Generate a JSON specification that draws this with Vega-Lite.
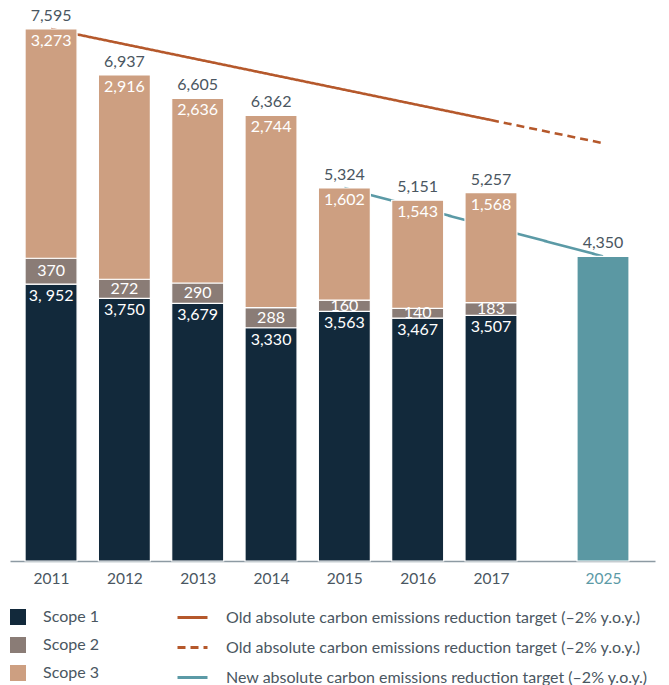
{
  "$schema": "https://vega.github.io/schema/vega-lite/v6.json",
  "width": 645,
  "height": 561,
  "autosize": {"type": "none"},
  "padding": {"left": 10, "top": 0, "right": 14, "bottom": 124},
  "background": "white",
  "config": {
    "view": {"stroke": null},
    "font": "Lato",
    "axis": {"labelFont": "Lato", "titleFont": "Lato"},
    "legend": {"labelFont": "Lato", "titleFont": "Lato"}
  },
  "datasets": {
    "segs": [
      {"year": 2011, "scope": "Scope 1", "value": 3952, "label": "3, 952"},
      {"year": 2011, "scope": "Scope 2", "value": 370, "label": "370"},
      {"year": 2011, "scope": "Scope 3", "value": 3273, "label": "3,273"},
      {"year": 2012, "scope": "Scope 1", "value": 3750, "label": "3,750"},
      {"year": 2012, "scope": "Scope 2", "value": 272, "label": "272"},
      {"year": 2012, "scope": "Scope 3", "value": 2916, "label": "2,916"},
      {"year": 2013, "scope": "Scope 1", "value": 3679, "label": "3,679"},
      {"year": 2013, "scope": "Scope 2", "value": 290, "label": "290"},
      {"year": 2013, "scope": "Scope 3", "value": 2636, "label": "2,636"},
      {"year": 2014, "scope": "Scope 1", "value": 3330, "label": "3,330"},
      {"year": 2014, "scope": "Scope 2", "value": 288, "label": "288"},
      {"year": 2014, "scope": "Scope 3", "value": 2744, "label": "2,744"},
      {"year": 2015, "scope": "Scope 1", "value": 3563, "label": "3,563"},
      {"year": 2015, "scope": "Scope 2", "value": 160, "label": "160"},
      {"year": 2015, "scope": "Scope 3", "value": 1602, "label": "1,602"},
      {"year": 2016, "scope": "Scope 1", "value": 3467, "label": "3,467"},
      {"year": 2016, "scope": "Scope 2", "value": 140, "label": "140"},
      {"year": 2016, "scope": "Scope 3", "value": 1543, "label": "1,543"},
      {"year": 2017, "scope": "Scope 1", "value": 3507, "label": "3,507"},
      {"year": 2017, "scope": "Scope 2", "value": 183, "label": "183"},
      {"year": 2017, "scope": "Scope 3", "value": 1568, "label": "1,568"},
      {"year": 2025, "scope": "Target", "value": 4350, "label": ""}
    ],
    "totals": [
      {"year": 2011, "total": 7595},
      {"year": 2012, "total": 6937},
      {"year": 2013, "total": 6605},
      {"year": 2014, "total": 6362},
      {"year": 2015, "total": 5324},
      {"year": 2016, "total": 5151},
      {"year": 2017, "total": 5257},
      {"year": 2025, "total": 4350}
    ],
    "targets": [
      {"series": "old", "year": 2011, "value": 7595},
      {"series": "old", "year": 2017, "value": 6295},
      {"series": "old_proj", "year": 2017, "value": 6295},
      {"series": "old_proj", "year": 2025, "value": 5965},
      {"series": "new", "year": 2015, "value": 5324},
      {"series": "new", "year": 2025, "value": 4350}
    ]
  },
  "encoding": {
    "x": {
      "field": "year",
      "type": "quantitative",
      "scale": {"domain": [2010.44, 2017, 2025, 2025.74], "range": [0, 481, 593, 645], "zero": false, "nice": false, "padding": 0},
      "axis": {
        "title": null,
        "values": [2011, 2012, 2013, 2014, 2015, 2016, 2017, 2025],
        "format": "d",
        "ticks": false,
        "grid": false,
        "domainColor": "#8d9aa3",
        "domainWidth": 1.5,
        "labelPadding": 10,
        "labelFontSize": 15.5,
        "labelColor": {"condition": {"test": "datum.value == 2025", "value": "#5b9aa6"}, "value": "#4a5661"}
      }
    },
    "y": {"field": "value", "type": "quantitative", "scale": {"domain": [0, 8009], "nice": false, "zero": true, "padding": 0}, "axis": null}
  },
  "layer": [
    {
      "data": {"name": "targets"},
      "mark": {"type": "line", "strokeWidth": 2.6},
      "encoding": {
        "stroke": {
          "field": "series",
          "type": "nominal",
          "scale": {"domain": ["old", "old_proj", "new"], "range": ["#b5582b", "#b5582b", "#5b9aa6"]},
          "legend": {
            "title": null,
            "orient": "none",
            "legendX": 166,
            "legendY": 601,
            "symbolType": "stroke",
            "symbolSize": 900,
            "symbolStrokeWidth": 3,
            "labelFontSize": 16,
            "labelColor": "#4a5661",
            "labelOffset": 17,
            "labelLimit": 600,
            "rowPadding": 5,
            "labelExpr": "datum.value == 'new' ? 'New absolute carbon emissions reduction target (–2% y.o.y.)' : 'Old absolute carbon emissions reduction target (–2% y.o.y.)'"
          }
        },
        "strokeDash": {
          "field": "series",
          "type": "nominal",
          "scale": {"domain": ["old", "old_proj", "new"], "range": [[1, 0], [8, 5], [1, 0]]},
          "legend": {
            "title": null,
            "orient": "none",
            "legendX": 166,
            "legendY": 601,
            "labelLimit": 600,
            "labelExpr": "datum.value == 'new' ? 'New absolute carbon emissions reduction target (–2% y.o.y.)' : 'Old absolute carbon emissions reduction target (–2% y.o.y.)'"
          }
        }
      }
    },
    {
      "data": {"name": "segs"},
      "mark": {"type": "bar", "width": 52, "stroke": "white", "strokeWidth": 1.2},
      "encoding": {
        "y": {"field": "value", "type": "quantitative", "stack": "zero"},
        "order": {"field": "scope", "sort": "ascending"},
        "fill": {
          "field": "scope",
          "type": "nominal",
          "scale": {"domain": ["Scope 1", "Scope 2", "Scope 3", "Target"], "range": ["#12293b", "#8a7c76", "#cd9f81", "#5b98a3"]},
          "legend": {
            "title": null,
            "values": ["Scope 1", "Scope 2", "Scope 3"],
            "orient": "none",
            "legendX": 0,
            "legendY": 609,
            "symbolType": "square",
            "symbolSize": 256,
            "symbolStrokeWidth": 0,
            "labelFontSize": 16,
            "labelColor": "#4a5661",
            "labelOffset": 17,
            "rowPadding": 12
          }
        }
      }
    },
    {
      "data": {"name": "segs"},
      "mark": {"type": "text", "baseline": "top", "dy": 4, "fontSize": 16, "color": "white"},
      "encoding": {
        "y": {"field": "value", "type": "quantitative", "stack": "zero"},
        "detail": {"field": "scope"},
        "order": {"field": "scope", "sort": "ascending"},
        "text": {"condition": {"test": "datum.scope === 'Scope 2'", "value": ""}, "field": "label"}
      }
    },
    {
      "data": {"name": "segs"},
      "mark": {"type": "text", "baseline": "middle", "fontSize": 16, "color": "white"},
      "encoding": {
        "y": {"field": "value", "type": "quantitative", "stack": "zero", "bandPosition": 0.5},
        "detail": {"field": "scope"},
        "order": {"field": "scope", "sort": "ascending"},
        "text": {"condition": {"test": "datum.scope !== 'Scope 2'", "value": ""}, "field": "label"}
      }
    },
    {
      "data": {"name": "totals"},
      "mark": {"type": "text", "baseline": "bottom", "dy": -5, "fontSize": 16, "color": "#4a5661"},
      "encoding": {
        "y": {"field": "total", "type": "quantitative"},
        "text": {"field": "total", "type": "quantitative", "format": ","}
      }
    }
  ]
}
